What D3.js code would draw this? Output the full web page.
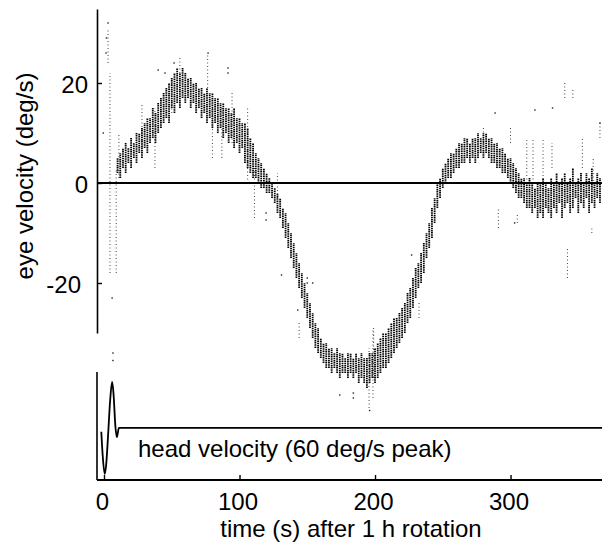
<!DOCTYPE html>
<html>
<head>
<meta charset="utf-8">
<script src="https://cdn.jsdelivr.net/npm/d3@7"></script>
<style>
  html, body { margin: 0; padding: 0; background: #fff; }
  svg { display: block; }
  text { font-family: "Liberation Sans", Arial, Helvetica, sans-serif; fill: #000; }
</style>
</head>
<body>
<svg id="chart" width="602" height="543"></svg>
<script>
// Eye velocity after 1 h rotation, with head velocity trace below

// dense sample columns: [time s, low deg/s, high deg/s]
const eyeDense = [
    [10,2,5],[12,1,6],[14,3,7],[16,2,8],[18,4,7],[20,3,9],[22,5,8],[24,4,10],[26,6,10],[28,5,11],
    [30,7,12],[32,6,13],[34,8,13],[36,9,15],[38,8,14],[40,10,16],[42,11,17],[44,12,18],[46,13,19],[48,12,20],
    [50,15,21],[52,14,22],[54,16,23],[56,15,22],[58,17,23],[60,16,22],[62,17,21],[64,15,21],[66,16,20],[68,14,20],
    [70,15,19],[72,13,19],[74,14,18],[76,12,19],[78,13,18],[80,11,18],[82,12,17],[84,10,17],[86,11,16],[88,9,16],
    [90,10,15],[92,8,15],[94,9,14],[96,7,15],[98,8,13],[100,6,13],[102,7,12],[104,4,12],[106,3,11],[108,2,9],
    [110,1,8],[112,1,6],[114,0,5],[116,-1,4],[118,-1,3],[120,-2,2],[122,-2,1],[124,-3,0],[126,-4,-1],[128,-6,-2],
    [130,-7,-3],[132,-9,-5],[134,-11,-6],[136,-13,-8],[138,-15,-10],[140,-17,-12],[142,-19,-14],[144,-21,-16],[146,-23,-18],[148,-25,-20],
    [150,-27,-22],[152,-29,-24],[154,-31,-26],[156,-33,-28],[158,-34,-29],[160,-35,-31],[162,-36,-32],[164,-37,-32],[166,-37,-33],[168,-38,-33],
    [170,-37,-34],[172,-38,-33],[174,-39,-34],[176,-38,-34],[178,-38,-35],[180,-39,-34],[182,-38,-34],[184,-39,-35],[186,-38,-34],[188,-40,-35],
    [190,-39,-34],[192,-40,-35],[194,-41,-35],[196,-40,-34],[198,-39,-34],[200,-40,-33],[202,-39,-32],[204,-38,-31],[206,-37,-30],[208,-37,-30],
    [210,-36,-29],[212,-35,-28],[214,-34,-27],[216,-33,-27],[218,-32,-26],[220,-31,-25],[222,-30,-24],[224,-28,-22],[226,-27,-21],[228,-25,-19],
    [230,-23,-17],[232,-21,-16],[234,-20,-14],[236,-18,-12],[238,-15,-10],[240,-13,-8],[242,-11,-5],[244,-8,-3],[246,-5,0],[248,-3,1],
    [250,-1,3],[252,0,4],[254,1,5],[256,1,6],[258,2,6],[260,3,7],[262,3,8],[264,4,8],[266,4,9],[268,5,9],
    [270,4,8],[272,5,9],[274,4,9],[276,5,10],[278,6,9],[280,5,10],[282,6,10],[284,5,9],[286,4,9],[288,4,8],
    [290,3,8],[292,3,7],[294,2,7],[296,2,6],[298,1,5],[300,0,5],[302,-1,4],[304,-2,3],[306,-3,2],[308,-3,1],
    [310,-4,1],[312,-5,0],[314,-5,1],[316,-6,0],[318,-5,-1],[320,-7,0],[322,-6,0],[324,-7,1],[326,-5,0],[328,-6,-1],
    [330,-7,1],[332,-5,0],[334,-6,2],[336,-4,0],[338,-7,1],[340,-5,2],[342,-4,0],[344,-6,1],[346,-5,3],[348,-3,0],
    [350,-6,1],[352,-4,2],[354,-5,0],[356,-3,2],[358,-6,1],[360,-4,3],[362,-5,0],[364,-3,2],[366,-4,1]
];

// sparse (faint) sample columns: [time s, low, high]
const eyeSparse = [
    [3,24,31],[4.4,-18,22],[9,-18,3],[11,1,10],[28,7,16],[37.6,3,15],[50,14,21],[56,22,25],
    [76.5,19,26],[80,5,15],[87,5,15],[94.5,8,18],[106,0,15],[111,-7,3],[128,-3,2],[144,-31,-28],
    [195.6,-45,-33],[198.5,-43,-29],[199,-39,-29],[232.5,-27,-24],[280,8,11],[291,-9,-5],[300,8,11],
    [305,-8,-6],[312,0,9],[316.6,0,9],[324,0,9],[330.6,3,8],[342,-19,-13],[340,17,20],[346,17,19],
    [353,3,9],[360,-10,-9],[361,-1,5],[366,9,12]
];

// isolated samples: [time s, deg/s]
const eyeStray = [
    [-0.5,10],[1.5,26],[1.8,29],[3,32],[6,-23],[6.6,-34],[6.6,-35.5],[40,22.6],[45,22],[51.7,24],
    [76.8,26],[91.5,22],[91.5,23],[119.6,-6],[119.6,-7.4],[131,-18.4],[143,-25.4],[150,-19],[150,-20],
    [154,-20],[174,-42.4],[184,-42],[184,-43],[196,-45.5],[227,-14.4],[288.6,14],[303,-8],[318,14.6],
    [331,15],[366,12]
];

// head velocity trace: [time s, deg/s]
const headT = [-2, -1, 0.5, 1.5, 3, 4.5, 6, 7, 8.5, 9.5, 11, 368];
const headV = [-5, -35, -60, -50, -10, 35, 60, 45, 0, -12, 0, 0];

const eyeTicks = [20, 0, -20];
const timeTicks = [0, 100, 200, 300];

const svg = d3.select('#chart');
const width = +svg.attr('width');

const axisX = 97;
const eyeTop = 9, eyeBottom = 333;
const headTop = 372, headBottom = 480;
const fontSize = 24;

const x = d3.scaleLinear().domain([0, 367.5]).range([104, width]);
const yEye = d3.scaleLinear().domain([-30, 34.8]).range([eyeBottom, eyeTop]);
const yHead = d3.scaleLinear().domain([-68, 73]).range([headBottom, headTop]);

// eye samples
const data = svg.append('g');

data.selectAll('line.sparse')
    .data(eyeSparse)
    .enter()
    .append('line')
    .attr('class', 'sparse')
    .attr('x1', d => x(d[0]))
    .attr('x2', d => x(d[0]))
    .attr('y1', d => yEye(d[1]))
    .attr('y2', d => yEye(d[2]))
    .style('stroke', '#444')
    .style('stroke-width', 1)
    .style('stroke-dasharray', '1,2.5');

data.selectAll('line.dense')
    .data(eyeDense)
    .enter()
    .append('line')
    .attr('class', 'dense')
    .attr('x1', d => x(d[0]))
    .attr('x2', d => x(d[0]))
    .attr('y1', d => yEye(d[1]))
    .attr('y2', d => yEye(d[2]))
    .style('stroke', '#000')
    .style('stroke-width', 1.8)
    .style('stroke-dasharray', '1.5,0.7');

data.selectAll('rect.stray')
    .data(eyeStray)
    .enter()
    .append('rect')
    .attr('class', 'stray')
    .attr('x', d => x(d[0]) - 0.7)
    .attr('y', d => yEye(d[1]) - 0.7)
    .attr('width', 1.4)
    .attr('height', 1.4)
    .style('fill', '#222');

// zero line
svg.append('line')
    .attr('x1', axisX)
    .attr('x2', width)
    .attr('y1', yEye(0))
    .attr('y2', yEye(0))
    .style('stroke', '#000')
    .style('stroke-width', 2.2);

// eye velocity axis
const eyeAxis = svg.append('g')
    .attr('transform', `translate(${axisX},0)`)
    .call(d3.axisLeft(yEye).tickValues(eyeTicks).tickFormat(d => String(d))
        .tickSize(-5).tickSizeOuter(0).tickPadding(9));

eyeAxis.select('.domain').style('stroke-width', 1.6);
eyeAxis.selectAll('.tick line').style('stroke-width', 1.4);
eyeAxis.selectAll('.tick text')
    .attr('dx', d => d < 0 ? -7 : 0)
    .attr('dy', '0.38em')
    .style('font-size', fontSize + 'px')
    .style('font-family', '"Liberation Sans", Arial, sans-serif');

svg.append('text')
    .attr('transform', `translate(33,176) rotate(-90)`)
    .attr('text-anchor', 'middle')
    .style('font-size', fontSize + 'px')
    .text('eye velocity (deg/s)');

// head velocity panel
const headLine = d3.line()
    .x(d => x(d[0]))
    .y(d => yHead(d[1]))
    .curve(d3.curveMonotoneX);

svg.append('path')
    .datum(headT.map((t, i) => [t, headV[i]]))
    .attr('d', headLine)
    .style('fill', 'none')
    .style('stroke', '#000')
    .style('stroke-width', 1.8);

svg.append('line')
    .attr('x1', axisX)
    .attr('x2', axisX)
    .attr('y1', headTop)
    .attr('y2', headBottom)
    .style('stroke', '#000')
    .style('stroke-width', 1.6);

const timeAxis = svg.append('g')
    .attr('transform', `translate(0,${headBottom})`)
    .call(d3.axisBottom(x).tickValues(timeTicks).tickSize(-5).tickSizeOuter(0).tickPadding(13));

timeAxis.select('.domain')
    .attr('d', `M${axisX},0H${width}`)
    .style('stroke-width', 2.2);
timeAxis.selectAll('.tick line').style('stroke-width', 1.4);
timeAxis.selectAll('.tick text')
    .attr('dx', -2)
    .style('font-size', fontSize + 'px')
    .style('font-family', '"Liberation Sans", Arial, sans-serif');

svg.append('text')
    .attr('x', 138)
    .attr('y', 457)
    .style('font-size', fontSize + 'px')
    .text('head velocity (60 deg/s peak)');

svg.append('text')
    .attr('x', 351)
    .attr('y', 537)
    .attr('text-anchor', 'middle')
    .style('font-size', fontSize + 'px')
    .text('time (s) after 1 h rotation');
</script>
</body>
</html>
